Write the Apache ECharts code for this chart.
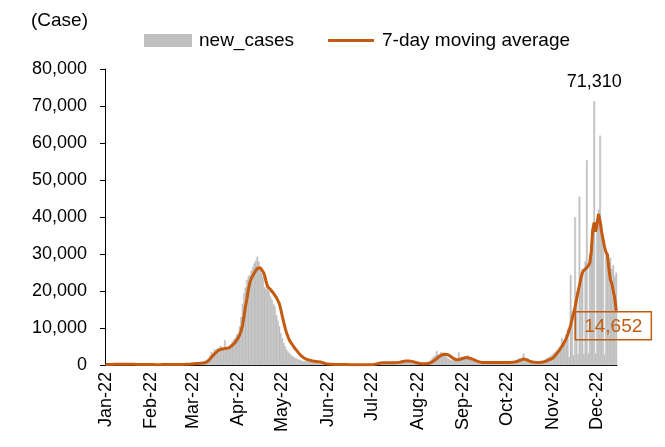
<!DOCTYPE html>
<html lang="en">
<head>
<meta charset="UTF-8">
<title>New cases 2022</title>
<style>
  html, body { margin: 0; padding: 0; background: #fff; }
</style>
</head>
<body>
<div id="main" style="width:665px;height:447px;"></div>
<script src="https://cdn.jsdelivr.net/npm/echarts/dist/echarts.min.js"></script>
<script type="text/javascript">
// month tick labels and number of days drawn in each month (data stops on Dec 14)
var monthLabels = ['Jan-22','Feb-22','Mar-22','Apr-22','May-22','Jun-22','Jul-22','Aug-22','Sep-22','Oct-22','Nov-22','Dec-22'];
var monthDays = [31, 28, 31, 30, 31, 30, 31, 31, 30, 31, 30, 14];

// daily new cases
var casesJan = [120,140,160,150,170,180,190,210,230,200,220,240,250,230,210,190,180,170,160,150,140,130,150,160,140,120,110,130,120,110,100];
var casesFeb = [100,90,80,90,100,110,120,130,140,150,160,170,150,140,130,120,130,140,150,160,170,190,210,230,250,270,300,320];
var casesMar = [300,330,380,450,420,550,520,700,900,1200,1500,1900,2600,3600,2800,4300,3200,4600,3900,5200,4100,4600,6700,4300,4800,5100,5600,6300,6900,7400,8200];
var casesApr = [8500,10500,13000,16500,19400,21000,23000,24000,24300,25500,26500,27500,28200,29300,28000,25700,24800,24000,21000,20500,22000,20000,18500,17600,16500,15800,13500,12000,10500,8600];
var casesMay = [7300,5900,5000,4100,3500,3100,2700,2400,2100,1900,1700,1500,1400,1200,1100,1100,1000,1000,900,900,900,800,700,600,500,400,300,300,200,200,200];
var casesJun = [180,150,120,100,90,80,90,100,120,150,130,110,100,90,80,70,60,80,100,90,80,70,60,70,80,90,100,110,100,120];
var casesJul = [150,250,400,500,550,600,650,700,600,550,650,700,600,550,600,650,700,750,800,900,1100,1200,1300,1100,1000,900,800,600,500,400,350];
var casesAug = [300,300,350,300,350,400,450,600,900,1400,1900,2300,2600,3800,2800,3000,3500,2900,2600,2400,2000,1700,1500,1300,1400,1300,1500,1600,3500,1800,2000];
var casesSep = [1900,2100,1800,2700,1600,1400,1200,1100,900,800,700,700,600,700,800,700,600,700,800,700,600,700,700,600,700,800,700,600,700,800];
var casesOct = [700,600,700,800,900,1000,1200,1500,1800,1700,2000,3100,1300,1100,900,800,700,800,700,800,800,900,900,1000,1100,1300,1500,1800,2100,2400,2600];
var casesNov = [3000,3400,3700,4100,4600,5200,7200,6100,7000,8300,9800,2200,24300,14500,2600,40000,19500,2800,45500,24000,26000,3000,28000,55400,3200,30000,33000,36000,71310,3000];
var casesDec = [39000,42000,62000,38000,35000,2800,31000,30000,28000,29000,26000,27000,24000,25000];

// 7-day moving average
var avgJan = [110,120,130,140,150,160,170,180,190,200,205,210,215,220,220,215,210,200,190,180,170,160,155,150,145,140,135,130,125,120,115];
var avgFeb = [110,105,100,95,95,100,105,110,120,130,140,145,150,148,145,140,138,136,138,142,148,158,170,185,200,220,240,265];
var avgMar = [300,330,360,390,420,450,480,520,580,680,850,1200,1700,2200,2600,3000,3400,3800,4000,4200,4300,4400,4500,4500,4600,4700,5000,5300,5700,6100,6600];
var avgApr = [7300,8100,9200,10800,13200,15800,18000,20500,22300,23400,24200,24900,25500,26100,26400,26300,25800,25200,24300,22500,21200,20800,20400,20000,19400,18900,18200,17400,16600,15000];
var avgMay = [13200,11500,9900,8600,7500,6600,6000,5400,4800,4300,3800,3300,2800,2400,2100,1800,1600,1450,1350,1250,1150,1050,1000,950,900,850,800,700,550,450,350];
var avgJun = [300,250,200,170,150,130,115,105,100,105,110,115,115,110,105,95,90,85,85,85,85,80,75,75,75,80,85,90,95,100];
var avgJul = [120,160,220,300,380,450,520,580,600,610,620,630,630,620,620,630,640,650,680,740,830,930,1020,1080,1100,1090,1050,980,880,760,640];
var avgAug = [540,450,400,380,370,370,380,420,500,650,850,1100,1400,1800,2100,2400,2650,2800,2900,2900,2850,2700,2450,2150,1850,1600,1450,1400,1450,1550,1700];
var avgSep = [1850,1950,2000,2000,1900,1750,1600,1450,1300,1100,950,850,750,700,700,700,700,700,700,700,700,700,700,690,690,700,700,700,700,700];
var avgOct = [700,700,700,720,760,820,900,1000,1150,1300,1450,1600,1600,1450,1250,1050,900,800,750,720,700,700,720,760,820,900,1000,1150,1300,1500,1700];
var avgNov = [1900,2300,2800,3300,3800,4400,5000,5700,6400,7200,8200,9400,10800,12500,14000,15600,17800,19800,21500,23500,25000,25600,25800,26300,26800,27500,30500,36500,38500,36000];
var avgDec = [36000,40800,39000,36000,34000,32000,30500,29800,26000,23000,22000,20000,18000,14652];

var orange = '#C55A11';
var gray = '#BFBFBF';
var font = 'Liberation Sans, Arial, sans-serif';

function pad(n) { return n < 10 ? '0' + n : '' + n; }

var days = [];
monthDays.forEach(function (n, m) {
    for (var d = 1; d <= n; d++) {
        days.push('2022-' + pad(m + 1) + '-' + pad(d));
    }
});

var cases = [].concat(casesJan, casesFeb, casesMar, casesApr, casesMay, casesJun,
    casesJul, casesAug, casesSep, casesOct, casesNov, casesDec);
var movingAvg = [].concat(avgJan, avgFeb, avgMar, avgApr, avgMay, avgJun,
    avgJul, avgAug, avgSep, avgOct, avgNov, avgDec);

// the tallest bar carries its own value label
var peak = Math.max.apply(null, cases);
var barData = cases.map(function (v) {
    if (v === peak) {
        return {
            value: v,
            label: {
                show: true, position: 'top', distance: 10,
                formatter: function (p) { return p.value.toLocaleString('en-US'); },
                color: '#000', fontSize: 18, fontFamily: font
            }
        };
    }
    return v;
});

var lastIdx = movingAvg.length - 1;

function isMonthStart(idx, val) { return val.slice(8) === '01'; }

var option = {
    animation: false,
    textStyle: { fontFamily: font },
    title: {
        text: '(Case)',
        left: 26, top: 6,
        textStyle: { fontSize: 19, fontWeight: 'normal', color: '#000', fontFamily: font }
    },
    legend: {
        left: 139, top: 26,
        itemWidth: 46, itemHeight: 11, itemGap: 34,
        symbolKeepAspect: true,
        textStyle: { fontSize: 19, color: '#000', fontFamily: font, padding: [0, 0, 0, 3] },
        data: [
            { name: 'new_cases', icon: 'rect' },
            // plain thin bar so the legend shows only a line, no marker
            { name: '7-day moving average', icon: 'path://M0,0H46V3H0Z' }
        ]
    },
    grid: { left: 105, right: 48, top: 69, bottom: 82 },
    xAxis: {
        type: 'category',
        data: days,
        axisLine: { lineStyle: { color: '#000', width: 1 } },
        axisTick: { interval: isMonthStart, length: 5, lineStyle: { color: '#000' } },
        axisLabel: {
            interval: isMonthStart,
            rotate: 90,
            margin: 7,
            fontSize: 18,
            color: '#000',
            fontFamily: font,
            formatter: function (val) { return monthLabels[parseInt(val.slice(5, 7), 10) - 1]; }
        },
        splitLine: { show: false }
    },
    yAxis: {
        type: 'value',
        min: 0, max: 80000, interval: 10000,
        axisLine: { show: true, lineStyle: { color: '#000', width: 1 } },
        axisTick: { show: true, length: 5, lineStyle: { color: '#000' } },
        axisLabel: {
            margin: 18, fontSize: 18, color: '#000', fontFamily: font,
            formatter: function (v) { return v.toLocaleString('en-US'); }
        },
        splitLine: { show: false }
    },
    series: [
        {
            name: 'new_cases',
            type: 'bar',
            data: barData,
            itemStyle: { color: gray, borderColor: gray, borderWidth: 0.4 },
            barWidth: 1.8
        },
        {
            name: '7-day moving average',
            type: 'line',
            data: movingAvg,
            symbol: 'none',
            showSymbol: false,
            lineStyle: { color: orange, width: 3 },
            itemStyle: { color: orange },
            z: 3,
            markPoint: {
                symbol: 'circle',
                symbolSize: 0,
                data: [{ coord: [lastIdx, movingAvg[lastIdx]], value: movingAvg[lastIdx] }],
                label: {
                    show: true,
                    position: 'bottom',
                    distance: 1,
                    offset: [-3, 0],
                    formatter: function (p) { return p.value.toLocaleString('en-US'); },
                    color: orange,
                    fontSize: 19,
                    fontFamily: font,
                    borderColor: orange,
                    borderWidth: 1.5,
                    padding: [5, 9, 4, 9]
                }
            }
        }
    ]
};

var myChart = echarts.init(document.getElementById('main'));
myChart.setOption(option);
</script>
</body>
</html>
